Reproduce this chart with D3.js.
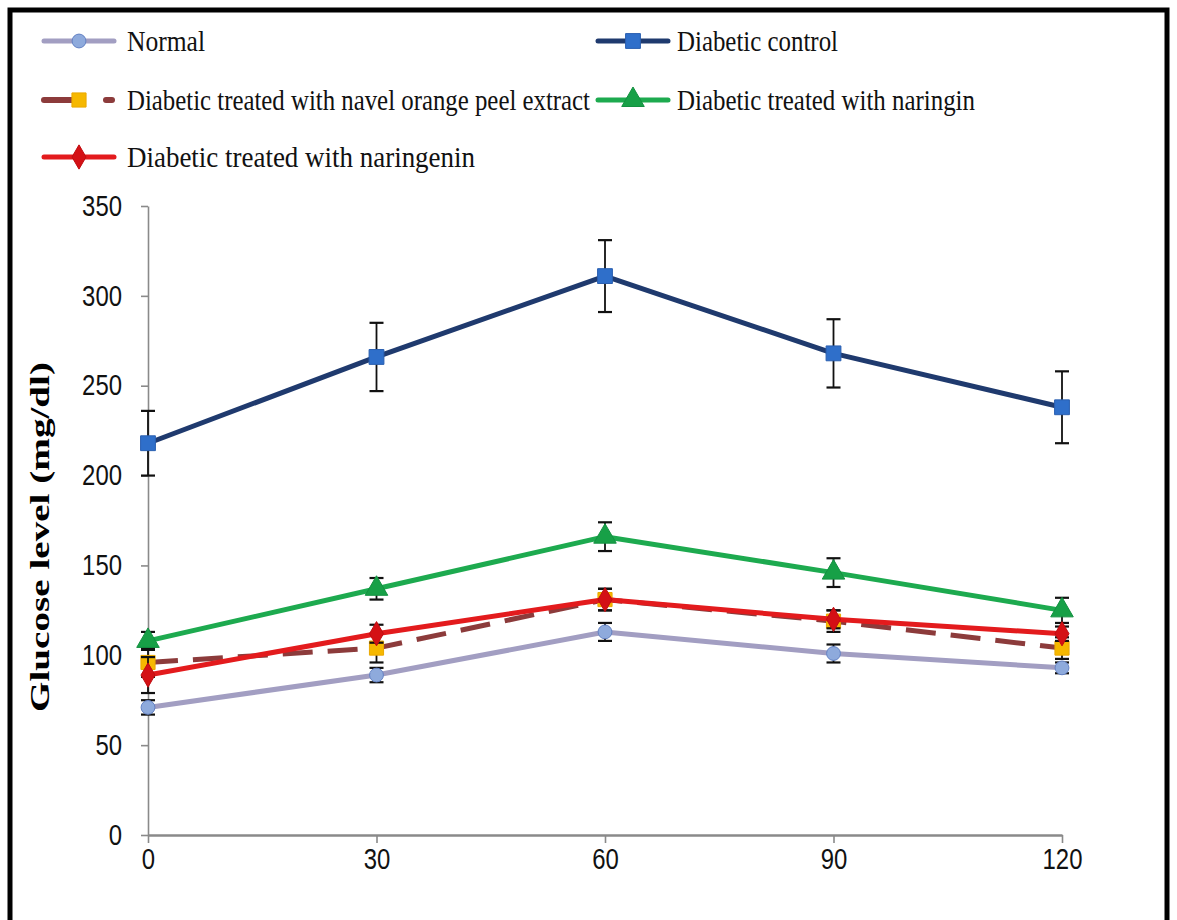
<!DOCTYPE html>
<html><head><meta charset="utf-8">
<script src="https://cdn.jsdelivr.net/npm/d3@7"></script>
<style>html,body{margin:0;padding:0;background:#fff;}svg{display:block;}</style>
</head><body>
<svg id="chart" width="1177" height="920"></svg>
<script>
const times = [0, 30, 60, 90, 120];
const xTicks = [0, 30, 60, 90, 120];
const yTicks = [0, 50, 100, 150, 200, 250, 300, 350];
const seriesNames = ["Normal", "Diabetic control", "Diabetic treated with navel orange peel extract", "Diabetic treated with naringin", "Diabetic treated with naringenin"];
const normal = [71, 89, 113, 101, 93];
const normalErr = [4, 4, 5, 5, 3];
const control = [218, 266, 311, 268, 238];
const controlErr = [18, 19, 20, 19, 20];
const navel = [96, 104, 131, 119, 104];
const navelErr = [8, 8, 6, 6, 6];
const naringin = [108, 137, 166, 146, 125];
const naringinErr = [5, 6, 8, 8, 7];
const naringenin = [89, 112, 131, 120, 112];
const naringeninErr = [10, 5, 6, 5, 4];
const yLabel = "Glucose level (mg/dl)";

const series = [
  {name: seriesNames[0], v: normal, e: normalErr, line: "#a29ec2", fill: "#8eaadc", stroke: "#6482c4", sym: d3.symbolCircle, size: 150, dash: null},
  {name: seriesNames[1], v: control, e: controlErr, line: "#1f3a6e", fill: "#2f6fca", stroke: "#2a5fb0", sym: d3.symbolSquare, size: 220, dash: null},
  {name: seriesNames[2], v: navel, e: navelErr, line: "#8c3b3b", fill: "#f6b800", stroke: "#eaa800", sym: d3.symbolSquare, size: 200, dash: "30,15"},
  {name: seriesNames[3], v: naringin, e: naringinErr, line: "#1daa4f", fill: "#17a047", stroke: "#139040", sym: d3.symbolTriangle, size: 220, dash: null},
  {name: seriesNames[4], v: naringenin, e: naringeninErr, line: "#e31b1d", fill: "#d41015", stroke: "#c00d10", sym: d3.symbolDiamond, size: 170, dash: null}
];

const svg = d3.select("#chart");
// frame (open at bottom)
svg.append("path").attr("d", "M10,930 L10,10 L1167,10 L1167,930")
  .attr("fill", "none").attr("stroke", "#000").attr("stroke-width", 5);

const x = d3.scaleLinear().domain([0, 120]).range([148, 1062]);
const y = d3.scaleLinear().domain([0, 350]).range([835, 206]);

const tickFont = "'Liberation Sans Narrow','Liberation Sans',Arial,sans-serif";

// y axis
const yAxis = svg.append("g").attr("transform", "translate(148,0)")
  .call(d3.axisLeft(y).tickValues(yTicks).tickSize(7).tickPadding(19).tickSizeOuter(0));
yAxis.select(".domain").attr("stroke", "#8a8a8a").attr("stroke-width", 1.6);
yAxis.selectAll(".tick line").attr("stroke", "#8a8a8a").attr("stroke-width", 1.6);
yAxis.selectAll(".tick text")
  .attr("font-family", tickFont).attr("font-size", 29).attr("fill", "#111")
  .attr("textLength", d => String(d).length * 13.3).attr("lengthAdjust", "spacingAndGlyphs");

// x axis
const xAxis = svg.append("g").attr("transform", "translate(0,835)")
  .call(d3.axisBottom(x).tickValues(xTicks).tickSize(8).tickPadding(5).tickSizeOuter(0));
xAxis.select(".domain").attr("stroke", "#8a8a8a").attr("stroke-width", 2.6);
xAxis.selectAll(".tick line").attr("stroke", "#8a8a8a").attr("stroke-width", 1.6);
xAxis.selectAll(".tick text")
  .attr("font-family", tickFont).attr("font-size", 29).attr("fill", "#111")
  .attr("textLength", d => String(d).length * 13.3).attr("lengthAdjust", "spacingAndGlyphs");

// y label
svg.append("text").attr("transform", "translate(49,537) rotate(-90)")
  .attr("text-anchor", "middle")
  .attr("font-family", "'Liberation Serif','Times New Roman',serif")
  .attr("font-weight", "bold").attr("font-size", 28).attr("fill", "#000")
  .attr("textLength", 350).attr("lengthAdjust", "spacingAndGlyphs")
  .text(yLabel);

const lineGen = d3.line().x((d, i) => x(times[i])).y(d => y(d));

series.forEach(s => {
  const g = svg.append("g");
  g.append("path").datum(s.v).attr("d", lineGen)
    .attr("fill", "none").attr("stroke", s.line).attr("stroke-width", 5)
    .attr("stroke-dasharray", s.dash).attr("stroke-linejoin", "round");
  // error bars
  const eb = g.selectAll(".eb").data(s.v.map((v, i) => ({t: times[i], v, e: s.e[i]}))).enter().append("g");
  eb.append("line").attr("x1", d => x(d.t)).attr("x2", d => x(d.t))
    .attr("y1", d => y(d.v + d.e)).attr("y2", d => y(d.v - d.e))
    .attr("stroke", "#111").attr("stroke-width", 1.8);
  [1, -1].forEach(sg => {
    eb.append("line").attr("x1", d => x(d.t) - 7).attr("x2", d => x(d.t) + 7)
      .attr("y1", d => y(d.v + sg * d.e)).attr("y2", d => y(d.v + sg * d.e))
      .attr("stroke", "#111").attr("stroke-width", 2.2);
  });
  g.selectAll(".mk").data(s.v).enter().append("path")
    .attr("d", d3.symbol().type(s.sym).size(s.size))
    .attr("transform", (d, i) => `translate(${x(times[i])},${y(d)})`)
    .attr("fill", s.fill).attr("stroke", s.stroke).attr("stroke-width", 1);
});

// legend
const legendItems = [
  {s: series[0], lx: 44, tx: 127, y: 41, tw: 78},
  {s: series[1], lx: 598, tx: 677, y: 41, tw: 161},
  {s: series[2], lx: 44, tx: 127, y: 100, tw: 463},
  {s: series[3], lx: 598, tx: 677, y: 100, tw: 298},
  {s: series[4], lx: 44, tx: 127, y: 157, tw: 348}
];
legendItems.forEach(it => {
  const g = svg.append("g");
  const s = it.s;
  if (s.dash) {
    g.append("line").attr("x1", it.lx).attr("x2", it.lx + 28).attr("y1", it.y).attr("y2", it.y)
      .attr("stroke", s.line).attr("stroke-width", 6).attr("stroke-linecap", "round");
    g.append("line").attr("x1", it.lx + 62).attr("x2", it.lx + 68).attr("y1", it.y).attr("y2", it.y)
      .attr("stroke", s.line).attr("stroke-width", 6).attr("stroke-linecap", "round");
  } else {
    g.append("line").attr("x1", it.lx).attr("x2", it.lx + 70).attr("y1", it.y).attr("y2", it.y)
      .attr("stroke", s.line).attr("stroke-width", 5).attr("stroke-linecap", "round");
  }
  g.append("path").attr("d", d3.symbol().type(s.sym).size(s.size))
    .attr("transform", `translate(${it.lx + 35},${it.y})`)
    .attr("fill", s.fill).attr("stroke", s.stroke).attr("stroke-width", 1);
  g.append("text").attr("x", it.tx).attr("y", it.y + 10)
    .attr("font-family", "'Liberation Serif','Times New Roman',serif")
    .attr("font-size", 30).attr("fill", "#111")
    .attr("textLength", it.tw).attr("lengthAdjust", "spacingAndGlyphs")
    .text(s.name);
});
</script>
</body></html>
